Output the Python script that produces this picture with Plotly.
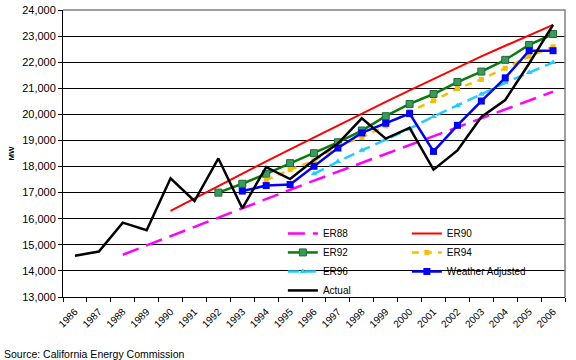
import plotly.graph_objects as go

years = [str(y) for y in range(1986, 2007)]

er88_years = [str(y) for y in range(1988, 2007)]
er88 = [14620, 14980, 15330, 15690, 16040, 16400, 16760, 17110, 17460, 17800,
        18150, 18490, 18830, 19170, 19500, 19840, 20180, 20520, 20870]

er90_years = [str(y) for y in range(1990, 2007)]
er90 = [16300, 16780, 17260, 17740, 18200, 18660, 19120, 19580, 20030, 20480,
        20920, 21360, 21800, 22220, 22630, 23030, 23430]

er92_years = [str(y) for y in range(1992, 2007)]
er92 = [17000, 17340, 17720, 18130, 18510, 18930, 19380, 19930, 20400, 20780,
        21240, 21640, 22090, 22660, 23080]

er94_years = [str(y) for y in range(1994, 2007)]
er94 = [17480, 17880, 18220, 18800, 19110, 19560, 20120, 20520, 20990, 21340,
        21770, 22220, 22590]

er96_years = [str(y) for y in range(1996, 2007)]
er96 = [17720, 18190, 18620, 19040, 19450, 19920, 20330, 20770, 21210, 21600, 21990]

wa_years = [str(y) for y in range(1993, 2007)]
weather_adjusted = [17060, 17270, 17310, 18010, 18710, 19290, 19660, 20030, 18580,
                    19580, 20510, 21400, 22440, 22440]

actual = [14580, 14740, 15850, 15560, 17550, 16680, 18310, 16400, 17980, 17520,
          18250, 18880, 19850, 19070, 19480, 17880, 18620, 19900, 20550, 21950, 23430]

y_ticks = list(range(13000, 24001, 1000))

FONT = "Arial, Liberation Sans, sans-serif"

fig = go.Figure()

fig.add_trace(go.Scatter(x=er88_years, y=er88, name="ER88", mode="lines",
                         line=dict(color="#FF00FF", width=2.5, dash="17px,8px"),
                         legend="legend"))
fig.add_trace(go.Scatter(x=er90_years, y=er90, name="ER90", mode="lines",
                         line=dict(color="#FF0000", width=2),
                         legend="legend2"))
fig.add_trace(go.Scatter(x=er92_years, y=er92, name="ER92", mode="lines+markers",
                         line=dict(color="#0A7A0A", width=2.5),
                         marker=dict(symbol="square", size=7, color="#3A9A5C",
                                     line=dict(color="#1E6B35", width=1)),
                         legend="legend"))
fig.add_trace(go.Scatter(x=er94_years, y=er94, name="ER94", mode="lines+markers",
                         line=dict(color="#F5BE00", width=2.5, dash="7px,6px"),
                         marker=dict(symbol="square", size=5, color="#F5BE00"),
                         legend="legend2"))
fig.add_trace(go.Scatter(x=er96_years, y=er96, name="ER96", mode="lines+markers",
                         line=dict(color="#22CCFF", width=2.5, dash="11px,6px"),
                         marker=dict(symbol="triangle-up", size=6, color="#22CCFF"),
                         legend="legend"))
fig.add_trace(go.Scatter(x=wa_years, y=weather_adjusted, name="Weather Adjusted",
                         mode="lines+markers",
                         line=dict(color="#0000FF", width=2.5),
                         marker=dict(symbol="square", size=7, color="#0000FF"),
                         legend="legend2"))
fig.add_trace(go.Scatter(x=years, y=actual, name="Actual", mode="lines",
                         line=dict(color="#000000", width=2.5),
                         legend="legend"))

fig.update_layout(
    width=576, height=360,
    margin=dict(l=63, r=11, t=10, b=63, pad=0),
    paper_bgcolor="white", plot_bgcolor="white",
    font=dict(family=FONT, color="black"),
    showlegend=True,
    legend=dict(x=0.438, y=0.272, xanchor="left", yanchor="top",
                bgcolor="rgba(255,255,255,0)", borderwidth=0,
                itemwidth=30, font=dict(size=10, family=FONT),
                tracegroupgap=0),
    legend2=dict(x=0.685, y=0.272, xanchor="left", yanchor="top",
                 bgcolor="rgba(255,255,255,0)", borderwidth=0,
                 itemwidth=30, font=dict(size=10, family=FONT),
                 tracegroupgap=0),
    xaxis=dict(type="category", categoryorder="array", categoryarray=years,
               range=[-0.5, 20.5], tickson="boundaries",
               ticks="outside", ticklen=4, tickcolor="black", tickwidth=1,
               showline=True, linecolor="black", linewidth=1,
               showgrid=False, tickangle=-45, ticklabelstandoff=4,
               tickfont=dict(size=10, family=FONT, color="black"),
               automargin=False, fixedrange=True),
    yaxis=dict(range=[13000, 24000], tickvals=y_ticks, tickformat=",",
               ticks="outside", ticklen=4, tickcolor="black", tickwidth=1,
               showline=True, linecolor="black", linewidth=1,
               showgrid=True, gridcolor="black", gridwidth=1, zeroline=False,
               tickfont=dict(size=11, family=FONT, color="black"),
               title=dict(text="<b>MW</b>", font=dict(size=8, family=FONT), standoff=6),
               automargin=False, fixedrange=True),
    shapes=[
        dict(type="rect", xref="paper", yref="paper", x0=0.432, x1=0.926, y0=0.004, y1=0.258,
             fillcolor="white", line=dict(width=0), layer="between"),
        dict(type="path", xref="paper", yref="paper", path="M 0,1 L 1,1 L 1,0",
             line=dict(color="#808080", width=1.5), layer="above"),
    ],
    annotations=[
        dict(text="Source: California Energy Commission", xref="paper", yref="paper",
             x=-0.1215, y=-0.199, xanchor="left", yanchor="middle", showarrow=False,
             font=dict(size=10.5, family=FONT, color="black")),
    ],
)

fig.write_html(
    "out.html",
    config={"displayModeBar": False, "staticPlot": False},
    post_script="document.body.style.margin='0';document.body.style.padding='0';"
                "document.body.style.overflow='hidden';",
)
